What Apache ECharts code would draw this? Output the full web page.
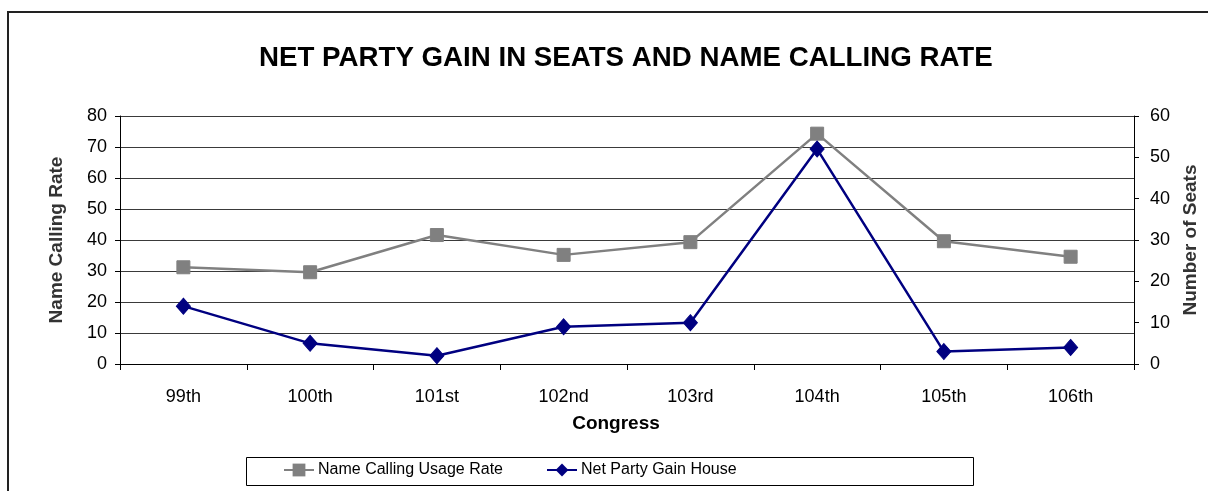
<!DOCTYPE html>
<html>
<head>
<meta charset="utf-8">
<script src="https://cdn.jsdelivr.net/npm/echarts@6/dist/echarts.min.js"></script>
<style>
html,body{margin:0;padding:0;background:#fff;}
#chart{width:1208px;height:491px;}
</style>
</head>
<body>
<div id="chart"></div>
<script>
var categories = ['99th','100th','101st','102nd','103rd','104th','105th','106th'];
var nameCallingRate = [31.2, 29.6, 41.6, 35.2, 39.3, 74.3, 39.6, 34.6];
var netPartyGain = [14, 5, 2, 9, 10, 52, 3, 4];
var leftTicks = {min: 0, max: 80, interval: 10};
var rightTicks = {min: 0, max: 60, interval: 10};

var FONT = '"Liberation Sans", Arial, sans-serif';
var NARROW = '"Liberation Sans Narrow", "Arial Narrow", "Liberation Sans", Arial, sans-serif';

var chart = echarts.init(document.getElementById('chart'), null, {renderer: 'canvas'});
chart.setOption({
  animation: false,
  backgroundColor: '#ffffff',
  textStyle: {fontFamily: FONT, color: '#000'},
  title: {
    text: 'NET PARTY GAIN IN SEATS AND NAME CALLING RATE',
    left: 254,
    top: 39,
    textStyle: {fontFamily: FONT, fontSize: 27.7, fontWeight: 'bold', color: '#000'}
  },
  graphic: [
    {type: 'rect', shape: {x: 8, y: 12, width: 1300, height: 600}, style: {fill: 'none', stroke: '#222', lineWidth: 2}, z: 100},
    {type: 'rect', shape: {x: 246.5, y: 457.5, width: 727, height: 28}, style: {fill: '#fff', stroke: '#000', lineWidth: 1}, z: -1}
  ],
  legend: [
    {
      data: ['Name Calling Usage Rate'],
      left: 283, top: 462, padding: 0,
      itemWidth: 30, itemHeight: 16, itemGap: 0,
      textStyle: {fontFamily: NARROW, fontSize: 16, color: '#000', padding: [0, 0, 0, -1]}
    },
    {
      data: ['Net Party Gain House'],
      left: 546, top: 462, padding: 0,
      itemWidth: 30, itemHeight: 16, itemGap: 0,
      textStyle: {fontFamily: NARROW, fontSize: 16, color: '#000', padding: [0, 0, 0, -1]}
    }
  ],
  grid: {left: 120, right: 70, top: 116, bottom: 127, containLabel: false},
  xAxis: {
    type: 'category',
    data: categories,
    boundaryGap: true,
    name: 'Congress',
    nameLocation: 'middle',
    nameGap: 50,
    nameTextStyle: {fontFamily: FONT, fontSize: 19, fontWeight: 'bold', color: '#000', padding: [0, 22, 0, 0]},
    axisLine: {lineStyle: {color: '#000', width: 1}},
    axisTick: {show: true, inside: false, length: 6, alignWithLabel: false, lineStyle: {color: '#000'}},
    axisLabel: {fontFamily: FONT, fontSize: 18, color: '#000', margin: 24},
    splitLine: {show: false}
  },
  yAxis: [
    {
      type: 'value',
      min: leftTicks.min, max: leftTicks.max, interval: leftTicks.interval,
      position: 'left',
      name: 'Name Calling Rate',
      nameLocation: 'middle',
      nameGap: 54,
      nameRotate: 90,
      nameTextStyle: {fontFamily: FONT, fontSize: 19, fontWeight: 'bold', color: '#333'},
      axisLine: {show: true, lineStyle: {color: '#000', width: 1}},
      axisTick: {show: true, inside: false, length: 5, lineStyle: {color: '#000'}},
      axisLabel: {fontFamily: FONT, fontSize: 18, color: '#000', margin: 13},
      splitLine: {show: true, lineStyle: {color: '#3a3a3a', width: 1}}
    },
    {
      type: 'value',
      min: rightTicks.min, max: rightTicks.max, interval: rightTicks.interval,
      position: 'right',
      name: 'Number of Seats',
      nameLocation: 'middle',
      nameGap: 47,
      nameRotate: 90,
      nameTextStyle: {fontFamily: FONT, fontSize: 19, fontWeight: 'bold', color: '#333'},
      axisLine: {show: true, lineStyle: {color: '#000', width: 1}},
      axisTick: {show: true, inside: false, length: 5, lineStyle: {color: '#000'}},
      axisLabel: {fontFamily: FONT, fontSize: 18, color: '#000', margin: 16},
      splitLine: {show: false}
    }
  ],
  series: [
    {
      name: 'Name Calling Usage Rate',
      type: 'line',
      yAxisIndex: 0,
      data: nameCallingRate,
      symbol: 'rect',
      symbolSize: 13,
      lineStyle: {color: '#808080', width: 2.5},
      itemStyle: {color: '#808080', borderColor: '#808080'},
      z: 2
    },
    {
      name: 'Net Party Gain House',
      type: 'line',
      yAxisIndex: 1,
      data: netPartyGain,
      symbol: 'diamond',
      symbolSize: [14, 16],
      lineStyle: {color: '#000080', width: 2.5},
      itemStyle: {color: '#000080', borderColor: '#000080'},
      z: 3
    }
  ]
});
</script>
</body>
</html>
